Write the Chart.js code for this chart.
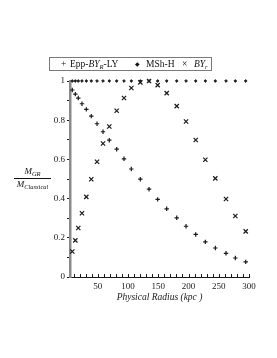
<!DOCTYPE html>
<html lang="en">
<head>
<meta charset="UTF-8" />
<title>M_GR / M_Classical</title>
<script src="https://cdn.jsdelivr.net/npm/chart.js@4"></script>
<style>
  body { margin: 0; background: #fff; }
  #wrap { position: relative; width: 277px; height: 358px; font-family: "Liberation Serif", serif; color: #111; }
  #wrap canvas { position: absolute; left: 0; top: 0; }
  .legend { position: absolute; left: 49px; top: 57px; width: 161px; height: 12px; border: 1.5px solid #7a7a7a; font-size: 9.5px; line-height: 12px; white-space: nowrap; }
  .legend span { position: absolute; top: 0; }
  i { font-style: italic; }
  sub { font-size: 6.5px; vertical-align: -2px; line-height: 0; }
  .ylab { position: absolute; left: 14px; top: 166px; width: 37px; text-align: center; font-size: 9px; font-style: italic; line-height: 11px; }
  .ylab .num { border-bottom: 1px solid #111; padding-bottom: 1px; }
</style>
</head>
<body>
<div id="wrap">
  <canvas id="myChart" width="277" height="358"></canvas>
  <div class="legend">
    <span style="left:11px">+</span>
    <span style="left:20px">Epp-<i>BY</i><sub><i>R</i></sub>-LY</span>
    <span style="left:85px;font-size:6px">&#9670;</span>
    <span style="left:96px">MSh-H</span>
    <span style="left:132px">&#215;</span>
    <span style="left:144px"><i>BY</i><sub><i>r</i></sub></span>
  </div>
  <div class="ylab">
    <div class="num">M<sub>GR</sub></div>
    <div>M<sub>Classical</sub></div>
  </div>
</div>
<script>
  // radius in kpc, shared by the three series
  const radius = [7.8, 12.8, 17.7, 23.8, 31.0, 39.2, 48.7, 58.6, 69.0, 81.2, 93.3, 105.4,
                  120.3, 134.7, 149.0, 163.9, 180.5, 195.9, 211.9, 227.8, 244.3, 262.0, 277.4, 294.6];
  const eppBYR = [0.954, 0.933, 0.913, 0.884, 0.855, 0.821, 0.782, 0.741, 0.698, 0.652, 0.603, 0.551,
                  0.499, 0.448, 0.396, 0.348, 0.302, 0.259, 0.217, 0.179, 0.148, 0.121, 0.097, 0.077];
  const mshH = [1, 1, 1, 1, 1, 1, 1, 1, 1, 1, 1, 1,
                1, 1, 1, 1, 1, 1, 1, 1, 1, 1, 1, 1];
  const byr = [0.130, 0.187, 0.250, 0.325, 0.409, 0.499, 0.588, 0.681, 0.768, 0.848, 0.913, 0.964,
               0.993, 1.000, 0.979, 0.938, 0.872, 0.793, 0.699, 0.598, 0.503, 0.398, 0.311, 0.233];
  const xMin = 4, xMax = 300;
  const xTickStep = 10, xLabelStep = 50;
  const yTickStep = 0.1;

  const pts = (ys) => radius.map((r, i) => ({ x: r, y: ys[i] }));
  const ink = "#1a1a1a";
  const serif = "'Liberation Serif', serif";

  // Maple-style tick marks pointing into the plot on the x axis
  const innerTicks = {
    id: "innerTicks",
    afterDraw(chart) {
      const sx = chart.scales.x, ctx = chart.ctx, b = chart.chartArea.bottom;
      ctx.save();
      ctx.strokeStyle = ink;
      ctx.lineWidth = 1;
      sx.ticks.forEach(t => {
        const px = Math.round(sx.getPixelForValue(t.value)) + 0.5;
        ctx.beginPath();
        ctx.moveTo(px, b);
        ctx.lineTo(px, b - 3);
        ctx.stroke();
      });
      ctx.restore();
    }
  };

  const ctx = document.getElementById("myChart").getContext("2d");
  new Chart(ctx, {
    type: "scatter",
    data: {
      datasets: [
        { label: "Epp-BYR-LY", data: pts(eppBYR), pointStyle: "cross", radius: 2.2,
          borderColor: ink, borderWidth: 1.2, clip: false },
        { label: "MSh-H", data: pts(mshH), pointStyle: "rectRot", radius: 1.4,
          borderColor: ink, backgroundColor: ink, borderWidth: 0.8, clip: false },
        { label: "BYr", data: pts(byr), pointStyle: "crossRot", radius: 3,
          borderColor: ink, borderWidth: 1.2, clip: false }
      ]
    },
    options: {
      responsive: false,
      animation: false,
      devicePixelRatio: 1,
      layout: { padding: { top: 81, right: 28, left: 0, bottom: 55 } },
      plugins: { legend: { display: false }, tooltip: { enabled: false } },
      scales: {
        x: {
          type: "linear",
          min: xMin,
          max: xMax,
          afterFit: (s) => { s.height = 26; },
          afterBuildTicks: (s) => {
            const t = [];
            for (let v = xTickStep; v <= xMax; v += xTickStep) t.push({ value: v });
            s.ticks = t;
          },
          grid: { drawOnChartArea: false, drawTicks: false },
          border: { color: ink, width: 1 },
          ticks: {
            color: ink,
            padding: 4,
            maxRotation: 0,
            autoSkip: false,
            font: { family: serif, size: 9 },
            callback: (v) => (v % xLabelStep === 0 ? String(v) : "")
          },
          title: {
            display: true,
            text: "Physical Radius (kpc )",
            color: ink,
            padding: { top: 0, bottom: 0 },
            font: { family: serif, size: 9.5, style: "italic" }
          }
        },
        y: {
          min: 0,
          max: 1,
          afterFit: (s) => { s.width = 70; },
          grid: { drawOnChartArea: false, drawTicks: true, tickLength: 3, color: ink },
          border: { color: "#8a8a8a", width: 2.5 },
          ticks: {
            stepSize: yTickStep,
            color: ink,
            padding: 2,
            autoSkip: false,
            font: { family: serif, size: 9 },
            callback: (v) => (Math.round(v * 10) % 2 === 0 ? String(+v.toFixed(1)) : "")
          }
        }
      }
    },
    plugins: [innerTicks]
  });
</script>
</body>
</html>
